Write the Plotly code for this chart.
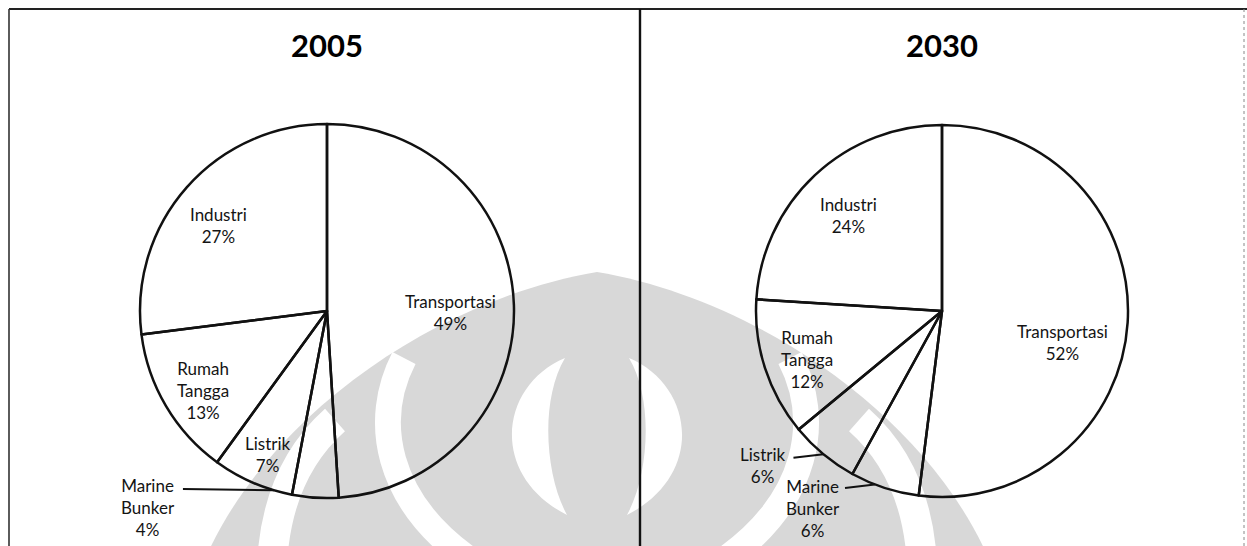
import math
import plotly.graph_objects as go

# ---------------- data ----------------
years = ["2005", "2030"]
categories = ["Transportasi", "Marine Bunker", "Listrik", "Rumah Tangga", "Industri"]
label_lines = ["Transportasi", "Marine<br>Bunker", "Listrik", "Rumah<br>Tangga", "Industri"]
share_2005 = [49, 4, 7, 13, 27]
share_2030 = [52, 6, 6, 12, 24]
shares = [share_2005, share_2030]

# ---------------- style / layout ----------------
W, H = 1247, 546
FONT = "Lato"
TXT = "#141414"
GREY = "#d8d8d8"

# pie boxes in pixels: (centre x, centre y, radius)
pie_geom = [(327, 311, 187), (942, 311, 186)]

# label placement: (angle offset from slice middle in degrees, radius fraction)
label_place = [
    [(2.5, 0.66), (38.8, 1.42), (-1.0, 0.83), (-2.0, 0.79), (-3.0, 0.74)],
    [(11.0, 0.67), (15.1, 1.27), (9.5, 1.27), (-2.0, 0.77), (-1.2, 0.72)],
]
# leader lines for outside labels: (pie index, slice index, start offset from label, end angle offset)
leaders = [
    (0, 1, (35, -18), 12.9),
    (1, 2, (30, -8), 0.0),
    (1, 1, (32, -21), 3.2),
]

fig = go.Figure()

# invisible cartesian frame in pixel units (for shapes and labels)
fig.add_trace(go.Scatter(x=[], y=[], showlegend=False, hoverinfo="skip"))

annotations = []
shapes = []

for p, vals in enumerate(shares):
    cx, cy, r = pie_geom[p]
    dom_x = [(cx - r) / W, (cx + r) / W]
    dom_y = [1 - (cy + r) / H, 1 - (cy - r) / H]
    fig.add_trace(go.Pie(
        labels=categories,
        values=vals,
        sort=False,
        direction="clockwise",
        rotation=0,
        textinfo="none",
        hoverinfo="label+percent",
        marker=dict(colors=["rgba(255,255,255,0)"] * len(vals),
                    line=dict(color="#111111", width=2.5)),
        domain=dict(x=dom_x, y=dom_y),
        showlegend=False,
    ))
    total = sum(vals)
    cum = 0
    mids = []
    for v in vals:
        mids.append((cum + v / 2) / total * 360)
        cum += v
    for i, v in enumerate(vals):
        off, rf = label_place[p][i]
        a = math.radians(mids[i] + off)
        lx = cx + rf * r * math.sin(a)
        ly = cy - rf * r * math.cos(a)
        annotations.append(dict(
            x=lx, y=ly, xref="x", yref="y", showarrow=False,
            text=f"{label_lines[i]}<br>{v}%",
            font=dict(family=FONT, size=17, color=TXT),
            align="center", xanchor="center", yanchor="middle",
        ))
    annotations.append(dict(
        x=cx, y=45, xref="x", yref="y", showarrow=False,
        text=f"<b>{years[p]}</b>",
        font=dict(family=FONT, size=31, color="#000000"),
        xanchor="center", yanchor="middle",
    ))
    for (pi, si, (sx, sy), eoff) in leaders:
        if pi != p:
            continue
        off, rf = label_place[p][si]
        a = math.radians(mids[si] + off)
        lx = cx + rf * r * math.sin(a)
        ly = cy - rf * r * math.cos(a)
        e = math.radians(mids[si] + eoff)
        ex = cx + r * math.sin(e)
        ey = cy - r * math.cos(e)
        shapes.append(dict(type="line", xref="x", yref="y",
                           x0=lx + sx, y0=ly + sy, x1=ex, y1=ey,
                           line=dict(color="#111111", width=2)))

# ---------------- watermark (scan background) ----------------
MX = 1194  # mirror: x' = MX - x (symmetry axis at 597)


def mirror(pts):
    return [(MX - x, y) for x, y in pts]


def cubic_path(pts, close=False):
    s = f"M {pts[0][0]},{pts[0][1]}"
    for k in range(1, len(pts), 3):
        s += " C " + " ".join(f"{x},{y}" for x, y in pts[k:k + 3])
    return s + (" Z" if close else "")


dome = [(190, 600), (240, 430), (430, 300), (597, 272), (764, 300), (954, 430), (1004, 600)]
shapes.append(dict(type="path", xref="x", yref="y", layer="below",
                   path=cubic_path(dome, close=True), fillcolor=GREY, line=dict(width=0)))

gap1 = [(272, 600), (268, 520), (290, 460), (335, 420)]
band1 = [(404, 358), (372, 420), (385, 500), (470, 560)]
for pts in (gap1, mirror(gap1)):
    shapes.append(dict(type="path", xref="x", yref="y", layer="below",
                       path=cubic_path(pts), line=dict(color="white", width=30)))
for pts in (band1, mirror(band1)):
    shapes.append(dict(type="path", xref="x", yref="y", layer="below",
                       path=cubic_path(pts), line=dict(color="white", width=26)))

cres = [(565, 358), (500, 385), (488, 475), (567, 515), (545, 475), (540, 400), (565, 358)]
for pts in (cres, mirror(cres)):
    shapes.append(dict(type="path", xref="x", yref="y", layer="below",
                       path=cubic_path(pts, close=True), fillcolor="white", line=dict(width=0)))

# ---------------- frame lines ----------------
shapes += [
    dict(type="line", xref="x", yref="y", x0=9, y0=9, x1=1247, y1=9,
         line=dict(color="#222222", width=2)),
    dict(type="line", xref="x", yref="y", x0=9, y0=9, x1=9, y1=546,
         line=dict(color="#333333", width=1.6)),
    dict(type="line", xref="x", yref="y", x0=640, y0=9, x1=640, y1=546,
         line=dict(color="#111111", width=2.4)),
    dict(type="line", xref="x", yref="y", x0=1244, y0=9, x1=1244, y1=546,
         line=dict(color="#888888", width=1, dash="dot")),
]

fig.update_layout(
    width=W, height=H,
    margin=dict(l=0, r=0, t=0, b=0),
    paper_bgcolor="white", plot_bgcolor="white",
    xaxis=dict(range=[0, W], visible=False, domain=[0, 1], fixedrange=True),
    yaxis=dict(range=[H, 0], visible=False, domain=[0, 1], fixedrange=True),
    shapes=shapes,
    annotations=annotations,
    showlegend=False,
)

fig.write_html("out.html", config={"displayModeBar": False})
